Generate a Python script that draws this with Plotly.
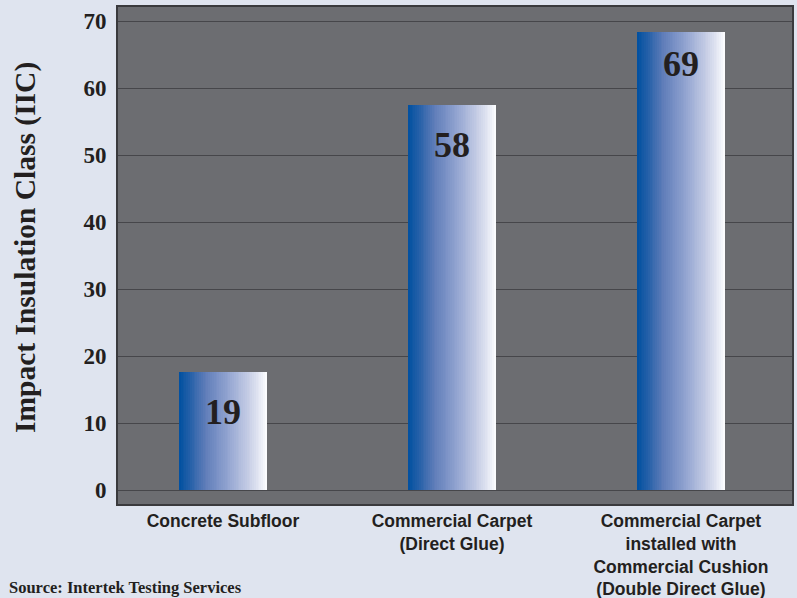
import plotly.graph_objects as go

# ---- data ----
categories = [
    "Concrete Subfloor",
    "Commercial Carpet<br>(Direct Glue)",
    "Commercial Carpet<br>installed with<br>Commercial Cushion<br>(Double Direct Glue)",
]
bar_heights = [17.6, 57.5, 68.3]      # drawn heights
bar_labels = ["19", "58", "69"]      # printed IIC values
y_ticks = [0, 10, 20, 30, 40, 50, 60, 70]

# ---- style ----
BG = "#dfe4ef"
PLOT_BG = "#6c6d71"
GRID = "#46464a"
BORDER = "#3a3a3d"
TXT = "#231f20"
bar_width = 0.384
n_strips = 48
label_shift = [-40, -40, -32]

stops = [(0.0, (0, 80, 160)), (0.12, (35, 95, 168)), (0.3, (95, 125, 185)),
         (0.55, (145, 163, 208)), (0.8, (200, 207, 230)), (0.95, (238, 240, 248)),
         (1.0, (255, 255, 255))]


def grad(t):
    for (t0, c0), (t1, c1) in zip(stops[:-1], stops[1:]):
        if t0 <= t <= t1:
            f = (t - t0) / (t1 - t0) if t1 > t0 else 0
            c = [round(a + (b - a) * f) for a, b in zip(c0, c1)]
            return "rgb(%d,%d,%d)" % tuple(c)
    return "rgb(255,255,255)"


xs, ys, cols = [], [], []
sw = bar_width / n_strips
for i, h in enumerate(bar_heights):
    for k in range(n_strips):
        xs.append(i - bar_width / 2 + (k + 0.5) * sw)
        ys.append(h)
        cols.append(grad((k + 0.5) / n_strips))

fig = go.Figure()
fig.add_trace(go.Bar(
    x=xs, y=ys, width=sw * 1.15,
    marker=dict(color=cols, line=dict(width=0)),
    hoverinfo="skip", showlegend=False,
))

for i, (h, lab) in enumerate(zip(bar_heights, bar_labels)):
    fig.add_annotation(
        x=i, y=h, xref="x", yref="y", text="<b>%s</b>" % lab,
        showarrow=False, yanchor="middle", xanchor="center", yshift=label_shift[i],
        font=dict(family="Liberation Serif", size=36, color=TXT),
    )

# y axis title
fig.add_annotation(
    x=0, y=0.515, xref="paper", yref="paper", xanchor="center", yanchor="middle",
    xshift=-93, text="<b>Impact Insulation Class (IIC)</b>", textangle=-90,
    showarrow=False, font=dict(family="Liberation Serif", size=29.5, color=TXT),
)
# source
fig.add_annotation(
    x=0, y=0, xref="paper", yref="paper", xanchor="left", yanchor="middle",
    xshift=-111, yshift=-83, text="<b>Source: Intertek Testing Services</b>",
    showarrow=False, font=dict(family="Liberation Serif", size=16.5, color=TXT),
)

fig.update_layout(
    width=797, height=598,
    margin=dict(l=118, r=5, t=7, b=94, autoexpand=False),
    paper_bgcolor=BG, plot_bgcolor=PLOT_BG,
    bargap=0,
    xaxis=dict(
        range=[-0.4585, 2.485], tickmode="array", tickvals=[0, 1, 2],
        ticktext=["<b>%s</b>" % c for c in categories],
        tickfont=dict(family="Liberation Sans", size=17.5, color=TXT),
        showgrid=False, zeroline=False, showline=True, mirror=True,
        linecolor=BORDER, linewidth=2, ticks="", ticklen=0,
        automargin=False,
    ),
    yaxis=dict(
        range=[-2.09, 72.09], tickmode="array", tickvals=y_ticks,
        ticktext=["<b>%d</b>" % v for v in y_ticks],
        tickfont=dict(family="Liberation Serif", size=23, color=TXT),
        showgrid=True, gridcolor=GRID, gridwidth=1, zeroline=False,
        showline=True, mirror=True, linecolor=BORDER, linewidth=2,
        ticks="outside", ticklen=5, tickcolor="rgba(0,0,0,0)", automargin=False,
    ),
)

fig.write_html("out.html")
